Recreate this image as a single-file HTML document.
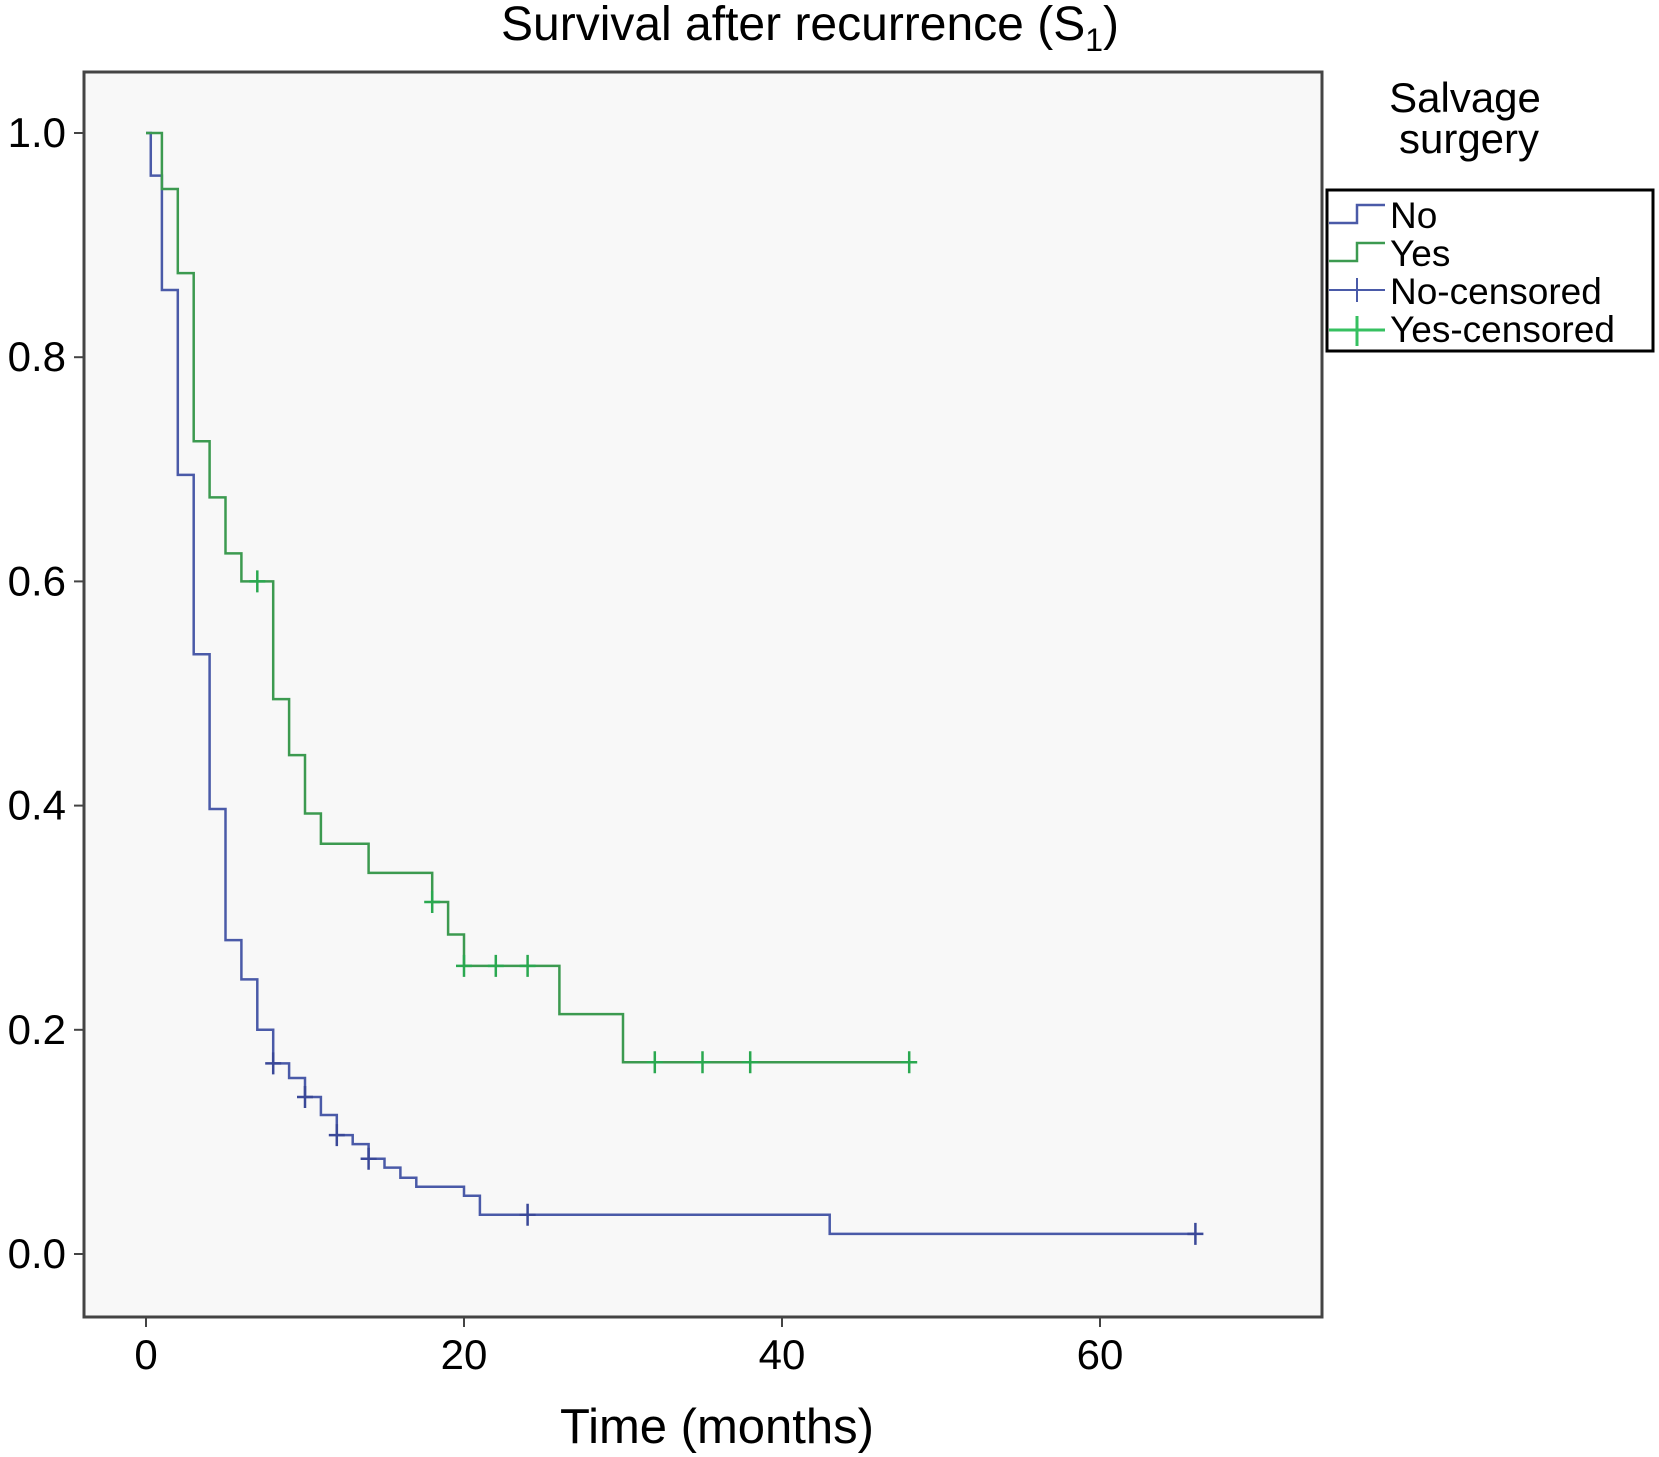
<!DOCTYPE html>
<html><head><meta charset="utf-8"><style>
html,body{margin:0;padding:0;background:#fff;}
svg{display:block;font-family:"Liberation Sans",Arial,sans-serif;}
</style></head><body>
<svg id="chart" width="1659" height="1457" viewBox="0 0 1659 1457">
<text x="810" y="40" font-size="48" text-anchor="middle">Survival after recurrence (S<tspan font-size="32" dy="11">1</tspan><tspan dy="-11">)</tspan></text>
<rect x="84" y="72" width="1238" height="1245" fill="#f8f8f8" stroke="#444" stroke-width="3"/>
<g id="axes"></g>
<g id="series"></g>
<text x="717" y="1443" font-size="49" text-anchor="middle">Time (months)</text>
<text x="1465" y="112" font-size="42" text-anchor="middle"><tspan x="1465">Salvage</tspan><tspan x="1469" dy="41">surgery</tspan></text>
<g>
<rect x="1327" y="190" width="326" height="161" fill="#fff" stroke="#000" stroke-width="3"/>
<g><path d="M1329,223 H1357 V205 H1385" fill="none" stroke="#4a5aa8" stroke-width="2.5"/><text x="1390" y="228" font-size="37">No</text></g>
<g><path d="M1329,261 H1357 V243 H1385" fill="none" stroke="#3c9a50" stroke-width="2.5"/><text x="1390" y="266" font-size="37">Yes</text></g>
<g><path d="M1329,290 H1385 M1357,278 V302" fill="none" stroke="#4a5aa8" stroke-width="2"/><text x="1390" y="304" font-size="37">No-censored</text></g>
<g><path d="M1329,330 H1385 M1357,316 V346" fill="none" stroke="#36c060" stroke-width="3"/><text x="1390" y="342" font-size="37">Yes-censored</text></g>
</g>
</svg>
<script>
const xTicks = [0, 20, 40, 60];
const yTicks = [0.0, 0.2, 0.4, 0.6, 0.8, 1.0];
const noTimes = [0, 0.3, 1, 2, 3, 4, 5, 6, 7, 8, 9, 10, 11, 12, 13, 14, 15, 16, 17, 20, 21, 43];
const noSurv = [1.0, 0.962, 0.86, 0.695, 0.535, 0.397, 0.28, 0.245, 0.2, 0.17, 0.157, 0.14, 0.124, 0.106, 0.098, 0.085, 0.077, 0.068, 0.06, 0.052, 0.035, 0.018];
const noEnd = 66;
const noCensT = [8, 10, 12, 14, 24, 66];
const yesTimes = [0, 1, 2, 3, 4, 5, 6, 8, 9, 10, 11, 14, 18, 19, 20, 26, 30];
const yesSurv = [1.0, 0.95, 0.875, 0.725, 0.675, 0.625, 0.6, 0.495, 0.445, 0.393, 0.366, 0.34, 0.314, 0.285, 0.257, 0.214, 0.171];
const yesEnd = 48;
const yesCensT = [7, 18, 20, 22, 24, 32, 35, 38, 48];

const NS = "http://www.w3.org/2000/svg";
const X = t => 146 + t * (1100 - 146) / 60;
const Y = s => 1254 - s * (1254 - 133);
function mk(tag, attrs, parent) {
  const e = document.createElementNS(NS, tag);
  for (const k in attrs) e.setAttribute(k, attrs[k]);
  parent.appendChild(e);
  return e;
}
const axes = document.getElementById('axes');
const series = document.getElementById('series');
xTicks.forEach(t => {
  const l = mk('line', {x1: X(t), x2: X(t), y1: 1317, y2: 1327, stroke: '#444', 'stroke-width': 2}, axes);
  
  
  const tx = mk('text', {x: X(t), y: 1369, 'font-size': 42, 'text-anchor': 'middle'}, axes);
  tx.textContent = String(t);
  
  
});
yTicks.forEach(v => {
  const l = mk('line', {x1: 74, x2: 84, y1: Y(v), y2: Y(v), stroke: '#444', 'stroke-width': 2}, axes);
  
  
  const tx = mk('text', {x: 66, y: Y(v) + 14, 'font-size': 42, 'text-anchor': 'end'}, axes);
  tx.textContent = v.toFixed(1);
  
  
});
function survAt(times, surv, t) {
  let s = surv[0];
  for (let i = 0; i < times.length; i++) if (times[i] <= t) s = surv[i];
  return s;
}
function drawCurve(times, surv, end, cens, color, censColor, name) {
  let d = 'M' + X(times[0]) + ',' + Y(surv[0]);
  for (let i = 1; i < times.length; i++) {
    d += ' H' + X(times[i]) + ' V' + Y(surv[i]);
  }
  d += ' H' + X(end);
  const p = mk('path', {d: d, fill: 'none', stroke: color, 'stroke-width': 2.5}, series);
  
  
  cens.forEach(t => {
    const s = survAt(times, surv, t);
    const m = mk('path', {d: 'M' + (X(t) - 8) + ',' + Y(s) + ' H' + (X(t) + 8) + ' M' + X(t) + ',' + (Y(s) - 11) + ' V' + (Y(s) + 11), stroke: censColor, 'stroke-width': 2.5, fill: 'none'}, series);
    
    
  });
}
drawCurve(noTimes, noSurv, noEnd, noCensT, '#4a5aa8', '#3a4898', 'no');
drawCurve(yesTimes, yesSurv, yesEnd, yesCensT, '#3c9a50', '#2aa850', 'yes');
</script>
</body></html>
